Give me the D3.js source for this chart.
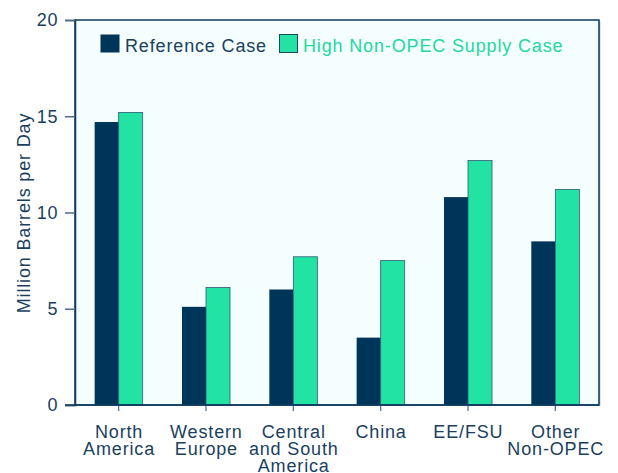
<!DOCTYPE html>
<html><head><meta charset="utf-8">
<script src="https://cdn.jsdelivr.net/npm/d3@7"></script>
<style>
html,body{margin:0;padding:0;background:#fff;}
text{font-family:"Liberation Sans",Arial,Helvetica,sans-serif;}
</style></head>
<body><svg id="c" width="618" height="473"></svg>
<script>
const categories = ["North\nAmerica","Western\nEurope","Central\nand South\nAmerica","China","EE/FSU","Other\nNon-OPEC"];
const seriesNames = ["Reference Case","High Non-OPEC Supply Case"];
const referenceCase = [14.7, 5.1, 6.0, 3.5, 10.8, 8.5];
const highNonOpecCase = [15.2, 6.1, 7.7, 7.5, 12.7, 11.2];
const yTicks = [0, 5, 10, 15, 20];

const navy = "#00355a", green = "#22e3a3", textNavy = "#1a3f60", legendGreen = "#22d89e";
const L = 75, R = 599, T = 20, B = 405;
const svg = d3.select("#c");

svg.append("rect").attr("x", L).attr("y", T).attr("width", R - L).attr("height", B - T)
  .attr("fill", "#f5fefe");

const x = d3.scaleBand().domain(categories).range([L, R]).paddingInner(0.45).paddingOuter(0.225);
const x1 = d3.scaleBand().domain([0, 1]).range([0, x.bandwidth()]);
const y = d3.scaleLinear().domain([0, 20]).range([B, T]);

const series = [referenceCase, highNonOpecCase];
const fills = [navy, green];
series.forEach((vals, si) => {
  svg.append("g").selectAll("rect").data(vals).join("rect")
    .attr("x", (d, i) => x(categories[i]) + x1(si))
    .attr("y", d => y(d))
    .attr("width", x1.bandwidth())
    .attr("height", d => B - y(d))
    .attr("fill", fills[si])
    .attr("stroke", si === 1 ? "#2f5878" : "none")
    .attr("stroke-width", 0.8);
});

// frame
svg.append("rect").attr("x", R - 0.5).attr("y", T + 1).attr("width", 2).attr("height", B - T)
  .attr("fill", "#9aaabb").attr("opacity", 0.6);
svg.append("rect").attr("x", L).attr("y", T).attr("width", R - L).attr("height", B - T)
  .attr("fill", "none").attr("stroke", "#0d3a5e").attr("stroke-width", 1.5);

// y axis
const yAxis = d3.axisLeft(y).tickValues(yTicks).tickSize(10).tickPadding(7).tickFormat(d3.format("d"));
const gy = svg.append("g").attr("transform", `translate(${L},0)`).call(yAxis);
gy.select(".domain").attr("stroke", "#0d3a5e").attr("stroke-width", 1.5);
gy.selectAll(".tick line").attr("stroke", "#4d6d88").attr("stroke-width", 1.5);
gy.selectAll(".tick text").attr("fill", textNavy).attr("font-size", 18)
  .style("font-family", "'Liberation Sans', Arial, sans-serif").attr("letter-spacing", 0.6);

// x axis
const xAxis = d3.axisBottom(x).tickSize(6).tickFormat("");
const gx = svg.append("g").attr("transform", `translate(0,${B})`).call(xAxis);
gx.select(".domain").remove();
gx.selectAll(".tick line").attr("stroke", "#4d6d88").attr("stroke-width", 1.2);
svg.append("line").attr("x1", L - 10).attr("x2", R).attr("y1", B).attr("y2", B)
  .attr("stroke", "#0d3a5e").attr("stroke-width", 1.5);

gx.selectAll(".tick").each(function(d) {
  const lines = d.split("\n");
  const t = d3.select(this).append("text").attr("fill", textNavy).attr("font-size", 18)
    .attr("text-anchor", "middle").attr("letter-spacing", 0.85)
    .style("font-family", "'Liberation Sans', Arial, sans-serif");
  lines.forEach((ln, i) => {
    t.append("tspan").attr("x", 0.4).attr("y", 32.7 + i * 17.3).text(ln);
  });
});

// y title
svg.append("text").attr("transform", "translate(30,213) rotate(-90)")
  .attr("text-anchor", "middle").attr("fill", textNavy).attr("font-size", 18)
  .attr("letter-spacing", 0.85).text("Million Barrels per Day");

// legend
const leg = svg.append("g");
leg.append("rect").attr("x", 100.5).attr("y", 34.5).attr("width", 19).attr("height", 18).attr("fill", navy);
leg.append("text").attr("x", 125).attr("y", 52).attr("fill", textNavy).attr("font-size", 18)
  .attr("letter-spacing", 0.85).text(seriesNames[0]);
leg.append("rect").attr("x", 279.5).attr("y", 34.5).attr("width", 18).attr("height", 18)
  .attr("fill", green).attr("stroke", "#1d4668").attr("stroke-width", 1);
leg.append("text").attr("x", 303).attr("y", 52).attr("fill", legendGreen).attr("font-size", 18)
  .attr("letter-spacing", 0.85).text(seriesNames[1]);
</script></body></html>
